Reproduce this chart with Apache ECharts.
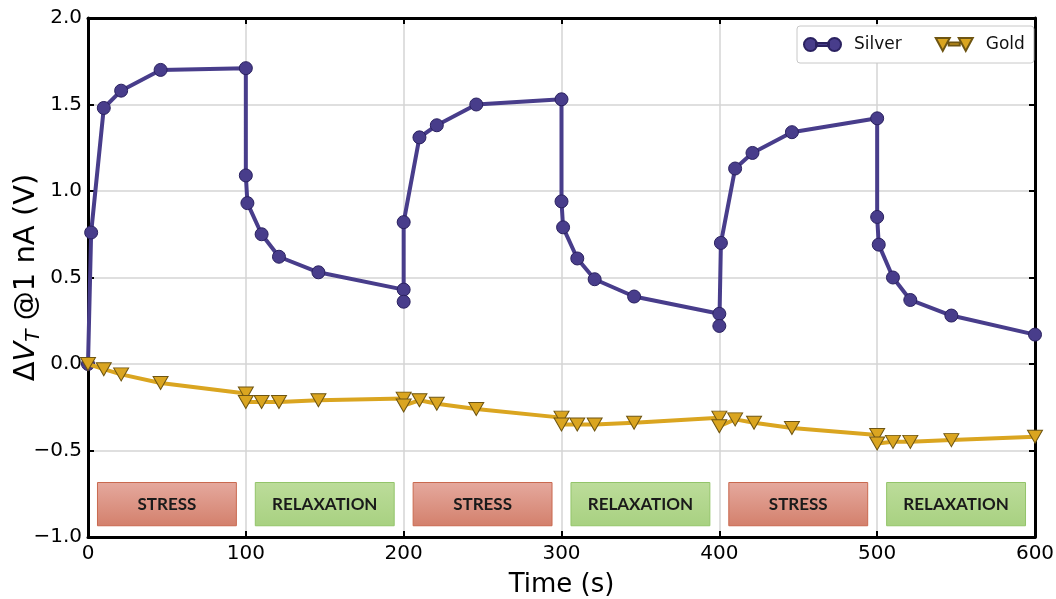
<!DOCTYPE html>
<html>
<head>
<meta charset="utf-8">
<script src="https://cdn.jsdelivr.net/npm/echarts@6/dist/echarts.min.js"></script>
<style>html,body{margin:0;padding:0;background:#fff}#c{width:1056px;height:599px}</style>
</head>
<body>
<div id="c"></div>
<script>
// ---- data ----
const silverTime  = [0, 2, 10, 21, 46, 100, 100, 101, 110, 121, 146, 200, 200, 200, 210, 221, 246, 300, 300, 301, 310, 321, 346, 400, 400, 401, 410, 421, 446, 500, 500, 501, 510, 521, 547, 600];
const silverValue = [0.00, 0.76, 1.48, 1.58, 1.70, 1.71, 1.09, 0.93, 0.75, 0.62, 0.53, 0.43, 0.36, 0.82, 1.31, 1.38, 1.50, 1.53, 0.94, 0.79, 0.61, 0.49, 0.39, 0.29, 0.22, 0.70, 1.13, 1.22, 1.34, 1.42, 0.85, 0.69, 0.50, 0.37, 0.28, 0.17];
const goldTime  = [0, 10, 21, 46, 100, 100, 110, 121, 146, 200, 200, 210, 221, 246, 300, 300, 310, 321, 346, 400, 400, 410, 422, 446, 500, 500, 510, 521, 547, 600];
const goldValue = [0.00, -0.03, -0.06, -0.11, -0.17, -0.22, -0.22, -0.22, -0.21, -0.20, -0.24, -0.21, -0.23, -0.26, -0.31, -0.35, -0.35, -0.35, -0.34, -0.31, -0.36, -0.32, -0.34, -0.37, -0.41, -0.46, -0.45, -0.45, -0.44, -0.42];
const phaseLabels = ['STRESS', 'RELAXATION', 'STRESS', 'RELAXATION', 'STRESS', 'RELAXATION'];
const phaseStart  = [6, 106, 206, 306, 406, 506];
const phaseEnd    = [94, 194, 294, 394, 494, 594];
const phaseTop    = -0.685;
const phaseBottom = -0.935;
const xTicks = [0, 100, 200, 300, 400, 500, 600];
const yTicks = [-1.0, -0.5, 0.0, 0.5, 1.0, 1.5, 2.0];

const chart = echarts.init(document.getElementById('c'), null, {renderer: 'canvas'});

const stressFill = new echarts.graphic.LinearGradient(0, 0, 0, 1, [
  {offset: 0, color: '#e5a99e'}, {offset: 1, color: '#d3806c'}]);
const relaxFill = new echarts.graphic.LinearGradient(0, 0, 0, 1, [
  {offset: 0, color: '#bcdc9a'}, {offset: 1, color: '#a8d181'}]);

const areas = phaseLabels.map((lab, i) => {
  const stress = lab === 'STRESS';
  return [
    {
      name: lab, xAxis: phaseStart[i], yAxis: phaseTop,
      itemStyle: {color: stress ? stressFill : relaxFill, borderColor: stress ? '#c9694f' : '#93c46a', borderWidth: 1},
      label: {show: true, position: 'inside', color: '#1a1a1a', fontFamily: 'Lato', fontWeight: 'bold', fontSize: 17}
    },
    {xAxis: phaseEnd[i], yAxis: phaseBottom}
  ];
});

const frameAxisCommon = {
  axisLine: {show: true, onZero: false, lineStyle: {color: '#000', width: 3}},
  axisTick: {show: true, inside: true, length: 6, lineStyle: {color: '#000', width: 2}},
  axisLabel: {show: false},
  splitLine: {show: false}
};

const silverIcon = 'path://M0,6.5A6.5,6.5 0 1,0 13,6.5A6.5,6.5 0 1,0 0,6.5Z M12,5L25,5L25,8L12,8Z M24,6.5A6.5,6.5 0 1,0 37,6.5A6.5,6.5 0 1,0 24,6.5Z';
const goldIcon = 'path://M0,0L14,0L7,13Z M13,4.5L24,4.5L24,7.5L13,7.5Z M23,0L37,0L30,13Z';

const option = {
  animation: false,
  backgroundColor: '#fff',
  grid: {left: 88, right: 21, top: 18, bottom: 62, containLabel: false, outerBoundsMode: 'none'},
  legend: {
    data: [{name: 'Silver', icon: silverIcon}, {name: 'Gold', icon: goldIcon}],
    left: 797, top: 26,
    padding: [10, 9, 10, 6],
    itemWidth: 37, itemHeight: 13, itemGap: 33,
    borderColor: '#c8c8c8', borderWidth: 1, borderRadius: 3,
    backgroundColor: '#fff',
    textStyle: {fontFamily: 'DejaVu Sans', fontSize: 17, color: '#111', padding: [0, 0, 0, 8]}
  },
  xAxis: [
    {
      type: 'value', min: 0, max: 600, interval: 100,
      name: 'Time (s)', nameLocation: 'middle', nameGap: 35, nameMoveOverlap: false,
      nameTextStyle: {fontFamily: 'DejaVu Sans', fontSize: 26, color: '#000'},
      axisLine: {show: true, onZero: false, lineStyle: {color: '#000', width: 3}},
      axisTick: {show: true, inside: true, length: 6, lineStyle: {color: '#000', width: 2}},
      axisLabel: {fontFamily: 'DejaVu Sans', fontSize: 20, color: '#000', margin: 7,
        formatter: v => xTicks.includes(v) ? String(v) : ''},
      splitLine: {show: true, lineStyle: {color: '#d4d4d4', width: 1.5}}
    },
    Object.assign({type: 'value', min: 0, max: 600, interval: 100, position: 'top'}, frameAxisCommon)
  ],
  yAxis: [
    {
      type: 'value', min: -1, max: 2, interval: 0.5,
      name: '{n|Δ}{i|V}{s|T}{n| @1 nA (V)}', nameLocation: 'middle', nameGap: 44, nameRotate: 90,
      nameMoveOverlap: false,
      nameTextStyle: {
        color: '#000',
        rich: {
          n: {fontFamily: 'DejaVu Sans', fontSize: 29, color: '#000'},
          i: {fontFamily: 'DejaVu Sans', fontStyle: 'italic', fontSize: 29, color: '#000'},
          s: {fontFamily: 'DejaVu Sans', fontStyle: 'italic', fontSize: 20, color: '#000', padding: [15, 0, 0, 0]}
        }
      },
      axisLine: {show: true, onZero: false, lineStyle: {color: '#000', width: 3}},
      axisTick: {show: true, inside: true, length: 6, lineStyle: {color: '#000', width: 2}},
      axisLabel: {fontFamily: 'DejaVu Sans', fontSize: 20, color: '#000', margin: 6,
        formatter: v => {
          const t = yTicks.find(k => Math.abs(k - v) < 1e-9);
          return t === undefined ? '' : t.toFixed(1).replace('-', '\u2212');
        }},
      splitLine: {show: true, lineStyle: {color: '#d4d4d4', width: 1.5}}
    },
    Object.assign({type: 'value', min: -1, max: 2, interval: 0.5, position: 'right'}, frameAxisCommon)
  ],
  series: [
    {
      name: 'phases', type: 'line', data: [], silent: true,
      markArea: {silent: true, data: areas}
    },
    {
      name: 'Silver', type: 'line',
      data: silverTime.map((t, i) => [t, silverValue[i]]),
      symbol: 'circle', symbolSize: 13,
      lineStyle: {color: '#483d8b', width: 4},
      itemStyle: {color: '#483d8b', borderColor: '#2a2160', borderWidth: 1},
      z: 3
    },
    {
      name: 'Gold', type: 'line',
      data: goldTime.map((t, i) => [t, goldValue[i]]),
      symbol: 'triangle', symbolRotate: 180, symbolSize: [15, 13],
      lineStyle: {color: '#daa520', width: 4},
      itemStyle: {color: '#daa520', borderColor: '#6e5512', borderWidth: 1},
      z: 4
    }
  ]
};
chart.setOption(option);
</script>
</body>
</html>
